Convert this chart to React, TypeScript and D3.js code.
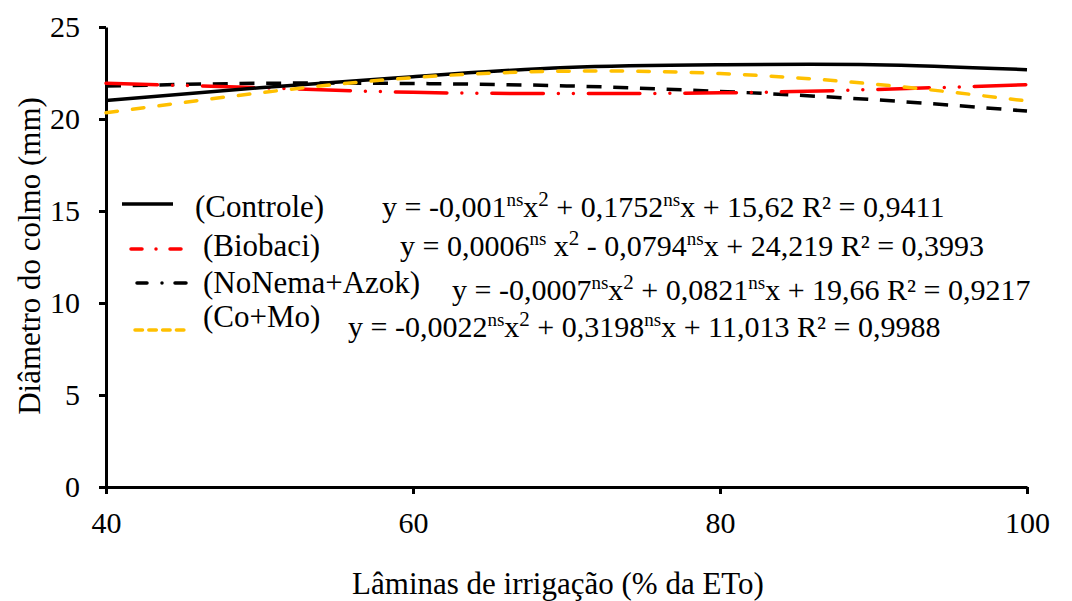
import * as d3 from 'd3';
import { useEffect, useRef } from 'react';

// irrigation levels (% ETo) read at 10-unit steps
const laminas = [40, 50, 60, 70, 80, 90, 100];
const controle = [21.0, 21.7, 22.3, 22.8, 22.95, 22.95, 22.68];
const biobaci = [21.94, 21.7, 21.45, 21.38, 21.42, 21.6, 21.87];
const noNema = [21.79, 21.94, 21.93, 21.8, 21.5, 21.05, 20.43];
const coMo = [20.34, 21.42, 22.25, 22.6, 22.47, 21.9, 20.98];

const xTicks = [40, 60, 80, 100];
const yTicks = [0, 5, 10, 15, 20, 25];

const seriesNames = ['(Controle)', '(Biobaci)', '(NoNema+Azok)', '(Co+Mo)'];
// equation pieces: [text, isSuperscript]
const equations: [string, boolean][][] = [
  [['y = -0,001', false], ['ns', true], ['x', false], ['2', true], [' + 0,1752', false], ['ns', true], ['x + 15,62 R² = 0,9411', false]],
  [['y = 0,0006', false], ['ns', true], [' x', false], ['2', true], [' - 0,0794', false], ['ns', true], ['x + 24,219 R² = 0,3993', false]],
  [['y = -0,0007', false], ['ns', true], ['x', false], ['2', true], [' + 0,0821', false], ['ns', true], ['x + 19,66 R² = 0,9217', false]],
  [['y = -0,0022', false], ['ns', true], ['x', false], ['2', true], [' + 0,3198', false], ['ns', true], ['x + 11,013 R² = 0,9988', false]],
];

const FONT = "'Liberation Serif', 'Times New Roman', serif";

const App = () => {
  const svgRef = useRef<SVGSVGElement>(null);
  const width = 1072, height = 601;

  useEffect(() => {
    const svg = d3.select(svgRef.current);
    svg.selectAll('*').remove();
    svg.attr('font-family', FONT);

    const x = d3.scaleLinear().domain([40, 100]).range([106, 1027]);
    const y = d3.scaleLinear().domain([0, 25]).range([487, 27]);

    // axes
    const gx = svg.append('g').attr('transform', `translate(0,${y(0)})`)
      .call(d3.axisBottom(x).tickValues(xTicks).tickSize(7).tickPadding(18).tickSizeOuter(0));
    const gy = svg.append('g').attr('transform', `translate(${x(40)},0)`)
      .call(d3.axisLeft(y).tickValues(yTicks).tickSize(7).tickPadding(19).tickSizeOuter(0));
    [gx, gy].forEach(g => {
      g.attr('font-family', FONT).attr('font-size', 30);
      g.select('.domain').attr('stroke', '#000').attr('stroke-width', 3);
      g.selectAll('.tick line').attr('stroke', '#000').attr('stroke-width', 3);
      g.selectAll('.tick text').attr('fill', '#000');
    });
    gx.selectAll('.tick text').attr('dy', '0.71em');

    // titles
    svg.append('text').attr('x', 558).attr('y', 594).attr('text-anchor', 'middle')
      .attr('font-size', 31).text('Lâminas de irrigação (% da ETo)');
    svg.append('text').attr('transform', 'translate(40,256) rotate(-90)').attr('text-anchor', 'middle')
      .attr('font-size', 31).text('Diâmetro do colmo (mm)');

    const line = d3.line<number>()
      .x((_, i) => x(laminas[i]))
      .y(d => y(d))
      .curve(d3.curveNatural);

    const series = [
      { values: controle, color: '#000', dash: null, cap: 'butt', lDash: null, lx: [122, 173], ly: 204, tx: 195, ty: 217, ex: 382, ey: 217 },
      { values: biobaci, color: '#ff0000', dash: '51.5 15 0 15 0 15', cap: 'round', lDash: '11 14 0 14 11', lx: [131, 181], ly: 249, tx: 203, ty: 256, ex: 400, ey: 256 },
      { values: noNema, color: '#000', dash: '15 11.7', cap: 'butt', lDash: '10 15 0 13 11', lx: [137, 186], ly: 283, tx: 203, ty: 293, ex: 452, ey: 300 },
      { values: coMo, color: '#ffc000', dash: '11.5 15.2', cap: 'round', lDash: '7.5 6.3', lx: [135, 185], ly: 330, tx: 203, ty: 327, ex: 348, ey: 337 },
    ];

    // curves (orange drawn on top like the original)
    [2, 1, 0, 3].forEach(i => {
      const s = series[i];
      svg.append('path').attr('d', line(s.values))
        .attr('fill', 'none').attr('stroke', s.color).attr('stroke-width', 3.5)
        .attr('stroke-linecap', s.cap)
        .attr('stroke-dasharray', s.dash);
    });

    // legend + equations
    series.forEach((s, i) => {
      svg.append('line').attr('x1', s.lx[0]).attr('x2', s.lx[1]).attr('y1', s.ly).attr('y2', s.ly)
        .attr('stroke', s.color).attr('stroke-width', 3.5)
        .attr('stroke-linecap', i === 0 ? 'butt' : 'round')
        .attr('stroke-dasharray', s.lDash);
      svg.append('text').attr('x', s.tx).attr('y', s.ty)
        .attr('font-size', 31).text(seriesNames[i]);
      const t = svg.append('text').attr('x', s.ex).attr('y', s.ey).attr('font-size', 30);
      let raised = false;
      equations[i].forEach(([txt, sup]) => {
        const dy = (sup ? -11 : 0) - (raised ? -11 : 0);
        t.append('tspan').attr('dy', dy)
          .attr('font-size', sup ? (txt === 'ns' ? 19 : 21) : 30).text(txt);
        raised = sup;
      });
    });
  }, []);

  return (
    <div style={{ position: 'absolute', left: 0, top: 0 }}>
      <svg ref={svgRef} width={width} height={height} style={{ display: 'block', background: '#fff' }}></svg>
    </div>
  );
};

export default App;
